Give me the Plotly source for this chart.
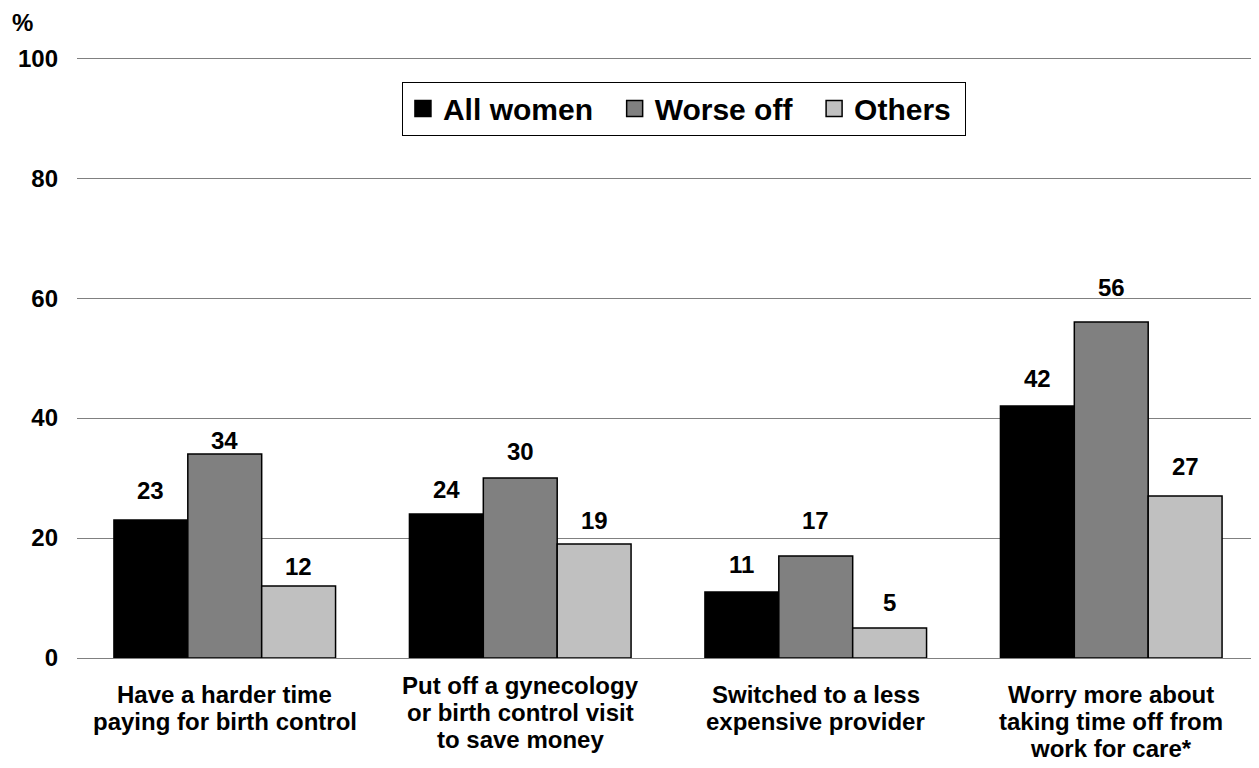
import plotly.graph_objects as go

categories = [
    ["Have a harder time", "paying for birth control"],
    ["Put off a gynecology", "or birth control visit", "to save money"],
    ["Switched to a less", "expensive provider"],
    ["Worry more about", "taking time off from", "work for care*"],
]
series_names = ["All women", "Worse off", "Others"]
all_women = [23, 24, 11, 42]
worse_off = [34, 30, 17, 56]
others = [12, 19, 5, 27]
y_ticks = [0, 20, 40, 60, 80, 100]

# style: colours and per-label vertical lift (px) above bar tops
colors = ["#000000", "#808080", "#C0C0C0"]
label_lift = [
    [30, 25, 28, 28],
    [14, 27, 36, 35],
    [20, 24, 26, 30],
]
legend_pad = ["\u00a0\u00a0", "\u00a0\u00a0", "\u00a0"]
# style: distance (px) from axis to first category line, and line pitch
first_line_drop = [36, 27, 36, 36]
line_pitch = 27

FONT = "Liberation Sans, Arial, sans-serif"
bargap = 0.25
series = [all_women, worse_off, others]
xs = list(range(len(categories)))

fig = go.Figure()
for name, vals, col in zip(series_names, series, colors):
    fig.add_trace(go.Bar(
        x=xs, y=vals, name=name, showlegend=False,
        marker=dict(color=col, line=dict(color="#000000", width=1.5)),
    ))
# legend entries with larger square swatches
for name, col, pad in zip(series_names, colors, legend_pad):
    fig.add_trace(go.Scatter(
        x=[None], y=[None], mode="markers", name=name + pad,
        marker=dict(symbol="square", size=20, color=col,
                    line=dict(color="#000000", width=1.5)),
    ))

bar_w = (1 - bargap) / len(series)
for i, vals in enumerate(series):
    for k, v in enumerate(vals):
        fig.add_annotation(
            x=k + (i - (len(series) - 1) / 2) * bar_w, y=v,
            xref="x", yref="y", text=f"<b>{v}</b>", showarrow=False,
            yshift=label_lift[i][k], yanchor="middle",
            font=dict(family=FONT, size=24, color="#000000"),
        )

# category labels, one annotation per line for tighter leading
for k, lines in enumerate(categories):
    for j, line in enumerate(lines):
        fig.add_annotation(
            x=k, y=0, xref="x", yref="y", text=f"<b>{line}</b>",
            showarrow=False, xanchor="center", yanchor="middle",
            yshift=-(first_line_drop[k] + j * line_pitch),
            font=dict(family=FONT, size=24, color="#000000"),
        )

fig.add_annotation(
    x=-0.0567, y=1.0566, xref="paper", yref="paper", text="<b>%</b>",
    showarrow=False, xanchor="left", yanchor="middle",
    font=dict(family=FONT, size=24, color="#000000"),
)

fig.update_layout(
    width=1251, height=760,
    margin=dict(l=69, r=0, t=49, b=110, autoexpand=False),
    paper_bgcolor="white", plot_bgcolor="white",
    barmode="group", bargap=bargap, bargroupgap=0,
    font=dict(family=FONT, color="#000000"),
    legend=dict(
        orientation="h", x=0.5135, xanchor="center", y=0.9143, yanchor="middle",
        bordercolor="#000000", borderwidth=1, bgcolor="white",
        font=dict(family=FONT, size=30, color="#000000", weight="bold"),
        itemsizing="trace", itemwidth=30,
    ),
    xaxis=dict(
        tickvals=xs, showticklabels=False,
        range=[-0.5, len(categories) - 0.5], automargin=False,
        showline=True, linecolor="#808080", linewidth=1,
        ticks="", showgrid=False,
    ),
    yaxis=dict(
        range=[0, 100.2], tickvals=y_ticks, automargin=False,
        ticktext=[f"<b>{t}</b>" for t in y_ticks],
        showgrid=True, gridcolor="#808080", gridwidth=1,
        zeroline=False, showline=False, ticks="",
        ticklabelstandoff=18,
        tickfont=dict(family=FONT, size=24, color="#000000"),
    ),
)

fig.write_html("out.html")
